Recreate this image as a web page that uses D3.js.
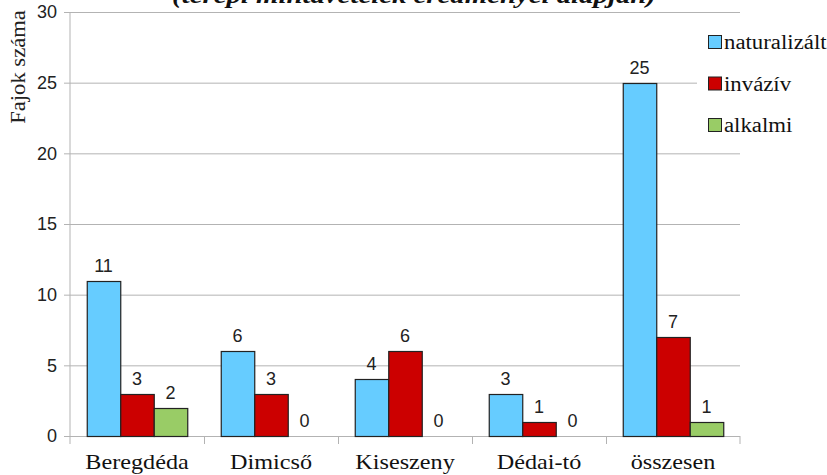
<!DOCTYPE html>
<html>
<head>
<meta charset="utf-8">
<script src="https://d3js.org/d3.v7.min.js"></script>
<style>
  body { margin: 0; background: #fff; }
  .grid line { stroke: #b3b3b3; stroke-width: 1px; }
  .grid path { display: none; }
  .yaxis text { font-family: "Liberation Sans", Arial, sans-serif; font-size: 18px; fill: #222; }
  .yaxis line, .yaxis path { stroke: #b3b3b3; }
  .xaxis text { font-family: "Liberation Serif", "Times New Roman", serif; font-size: 22px; fill: #111; }
  .xaxis line, .xaxis path { stroke: #b3b3b3; }
  .val { font-family: "Liberation Sans", Arial, sans-serif; font-size: 18px; fill: #222; text-anchor: middle; }
  .legend text { font-family: "Liberation Serif", "Times New Roman", serif; font-size: 20px; fill: #111; }
</style>
</head>
<body>
<script>
// categories and series
var categories = ["Beregdéda", "Dimicső", "Kiseszeny", "Dédai-tó", "összesen"];
var seriesNames = ["naturalizált", "invázív", "alkalmi"];
var naturalizalt = [11, 6, 4, 3, 25];
var invaziv = [3, 3, 6, 1, 7];
var alkalmi = [2, 0, 0, 0, 1];
var yTicks = [0, 5, 10, 15, 20, 25, 30];
var colors = ["#66ccff", "#cc0000", "#99cc66"];
var titleText = "(terepi mintavételek eredményei alapján)";
var yTitle = "Fajok száma";

var W = 827, H = 475;
var plotL = 70, plotR = 740, plotT = 12, plotB = 436;

var svg = d3.select("body").append("svg")
    .attr("width", W)
    .attr("height", H);

// the serif text in the original is rendered a bit wider than Liberation Serif
function widen(sel, k) {
    sel.each(function() {
        var len = this.getComputedTextLength();
        d3.select(this)
            .attr("textLength", len * k)
            .attr("lengthAdjust", "spacingAndGlyphs");
    });
}

var x0 = d3.scaleBand().domain(categories).range([plotL, plotR]).padding(0);
var x1 = d3.scaleBand().domain(seriesNames).range([0, x0.bandwidth()])
    .paddingInner(0).paddingOuter(0.5);
var y = d3.scaleLinear().domain([0, 30]).range([plotB, plotT]);

// gridlines
svg.append("g")
    .attr("class", "grid")
    .attr("transform", "translate(" + plotL + ",0)")
    .call(d3.axisLeft(y).tickValues(yTicks).tickSize(-(plotR - plotL)).tickFormat(""));

// y axis
var yg = svg.append("g")
    .attr("class", "yaxis")
    .attr("transform", "translate(" + plotL + ",0)")
    .call(d3.axisLeft(y).tickValues(yTicks).tickSize(6).tickSizeOuter(0).tickPadding(7));
yg.select(".domain").attr("d", "M0," + plotT + "V" + (plotB + 8));

// x axis with separators between categories
var xg = svg.append("g")
    .attr("class", "xaxis")
    .attr("transform", "translate(0," + plotB + ")")
    .call(d3.axisBottom(x0).tickSize(0).tickPadding(17));
xg.select(".domain").remove();
widen(xg.selectAll(".tick text"), 1.1);
xg.selectAll(".sep")
    .data(categories.slice(1))
    .enter().append("line")
    .attr("class", "sep")
    .attr("x1", function(d) { return x0(d) + 0.5; })
    .attr("x2", function(d) { return x0(d) + 0.5; })
    .attr("y1", 0)
    .attr("y2", 8);
xg.append("line")
    .attr("x1", plotR).attr("x2", plotR)
    .attr("y1", 0).attr("y2", 8);

// bars
var rows = categories.map(function(c, i) {
    return {
        cat: c,
        values: [naturalizalt[i], invaziv[i], alkalmi[i]].map(function(v, j) {
            return { name: seriesNames[j], value: v, color: colors[j] };
        })
    };
});

var groups = svg.selectAll(".grp")
    .data(rows)
    .enter().append("g")
    .attr("class", "grp")
    .attr("transform", function(d) { return "translate(" + x0(d.cat) + ",0)"; });

groups.selectAll("rect")
    .data(function(d) { return d.values; })
    .enter().append("rect")
    .attr("x", function(d) { return x1(d.name) + 0.5; })
    .attr("y", function(d) { return Math.round(y(d.value)) + 0.5; })
    .attr("width", x1.bandwidth())
    .attr("height", function(d) { return plotB - Math.round(y(d.value)); })
    .attr("fill", function(d) { return d.color; })
    .attr("stroke", "#222")
    .attr("stroke-width", 1.2);

groups.selectAll(".val")
    .data(function(d) { return d.values; })
    .enter().append("text")
    .attr("class", "val")
    .attr("x", function(d) { return x1(d.name) + x1.bandwidth() / 2; })
    .attr("y", function(d) { return y(d.value) - 9; })
    .text(function(d) { return d.value; });

// legend
var lg = svg.append("g").attr("class", "legend");
lg.append("rect")
    .attr("x", 697).attr("y", 24)
    .attr("width", 130).attr("height", 118)
    .attr("fill", "#fff");
var li = lg.selectAll(".li")
    .data(seriesNames)
    .enter().append("g")
    .attr("transform", function(d, i) { return "translate(708," + (35 + i * 41.5) + ")"; });
li.append("rect")
    .attr("x", 0.5).attr("y", 0.5)
    .attr("width", 13).attr("height", 13)
    .attr("fill", function(d, i) { return colors[i]; })
    .attr("stroke", "#222");
widen(li.append("text")
    .attr("x", 16)
    .attr("y", 14)
    .text(function(d) { return d; }), 1.14);

// y title
widen(svg.append("text")
    .attr("transform", "translate(25,67) rotate(-90)")
    .attr("text-anchor", "middle")
    .style("font-family", "'Liberation Serif', 'Times New Roman', serif")
    .style("font-size", "20px")
    .style("fill", "#222")
    .text(yTitle), 1.13);

// title (cut off at top)
widen(svg.append("text")
    .attr("x", 414)
    .attr("y", 3)
    .attr("text-anchor", "middle")
    .style("font-family", "'Liberation Serif', 'Times New Roman', serif")
    .style("font-size", "24px")
    .style("font-weight", "bold")
    .style("font-style", "italic")
    .style("fill", "#111")
    .text(titleText), 1.2);
</script>
</body>
</html>
